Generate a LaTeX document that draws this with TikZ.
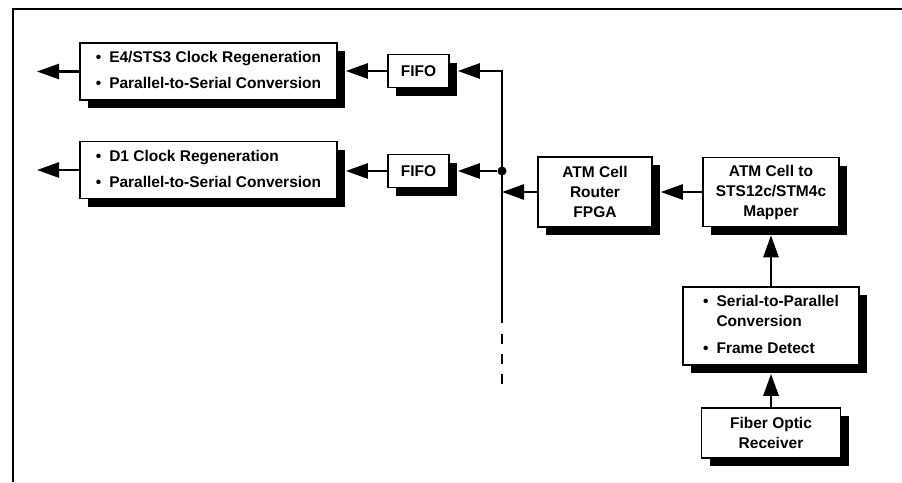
\documentclass[tikz,border=0pt]{standalone}
\usepackage{fontspec}
\setmainfont{Liberation Sans}
\usetikzlibrary{arrows.meta,shadows}
\begin{document}
\begin{tikzpicture}[x=1pt,y=-1pt,
  blk/.style={draw, line width=1.6pt, fill=white, inner sep=0pt, align=center,
     font=\bfseries\fontsize{15.5}{20}\selectfont,
     drop shadow={shadow xshift=8pt, shadow yshift=-8pt, fill=black, opacity=1}},
  conn/.style={line width=2.6pt, -{Triangle[length=22pt,width=15pt]}},
  busline/.style={line width=2.6pt},
  frameline/.style={line width=2pt}]
\useasboundingbox (0,0) rectangle (902,482);
\draw[frameline] (902,9) -- (13,9) -- (13,482);

% boxes
\node[blk, minimum width=257pt, minimum height=57pt] (b1) at (208.5,71.5)
  {\begin{tabular}{@{}l@{\hspace{8pt}}l@{}}\textbullet & E4/STS3 Clock Regeneration\\[6pt]\textbullet & Parallel-to-Serial Conversion\end{tabular}};
\node[blk, minimum width=257pt, minimum height=57pt] (b2) at (208.5,170)
  {\begin{tabular}{@{}l@{\hspace{8pt}}l@{}}\textbullet & D1 Clock Regeneration\\[6pt]\textbullet & Parallel-to-Serial Conversion\end{tabular}};
\node[blk, minimum width=61pt, minimum height=33pt] (f1) at (418.5,71) {FIFO};
\node[blk, minimum width=61pt, minimum height=33pt] (f2) at (418.5,171) {FIFO};
\node[blk, minimum width=114pt, minimum height=70pt] (r) at (595,192) {ATM Cell\\Router\\FPGA};
\node[blk, minimum width=136pt, minimum height=69pt] (m) at (771,192) {ATM Cell to\\STS12c/STM4c\\Mapper};
\node[blk, minimum width=176pt, minimum height=78pt] (sp) at (771,326)
  {\begin{tabular}{@{}l@{\hspace{8pt}}l@{}}\textbullet & Serial-to-Parallel\\ & Conversion\\[7pt]\textbullet & Frame Detect\end{tabular}};
\node[blk, minimum width=139pt, minimum height=50pt] (fo) at (771,433) {Fiber Optic\\Receiver};

% coordinates
\coordinate (o1) at (37,71.5);
\coordinate (o2) at (37,170);
\coordinate (bt) at (502,71);
\coordinate (bb) at (502,323);
\coordinate (rj) at (502,192);
\coordinate (d1) at (502,334);
\coordinate (d2) at (502,384);
\node[circle, fill=black, inner sep=0pt, minimum size=9pt] (dot) at (502,171) {};

% connectors
\draw[conn] (b1.west) -- (o1);
\draw[conn] (b2.west) -- (o2);
\draw[conn, shorten >=8pt] (f1.west) -- (f1.west -| b1.east);
\draw[conn, shorten >=8pt] (f2.west) -- (f2.west -| b2.east);
\draw[conn, shorten >=8pt] (bb) -- (bt) -- (f1.east);
\draw[conn, shorten >=8pt] (dot) -- (f2.east);
\draw[conn] (r.west) -- (rj);
\draw[busline, dash pattern=on 10pt off 10pt] (d1) -- (d2);
\draw[conn, shorten >=8pt] (m.west) -- (m.west -| r.east);
\draw[conn, shorten >=8pt] (sp.north) -- (m.south);
\draw[conn, shorten >=8pt] (fo.north) -- (sp.south);
\end{tikzpicture}
\end{document}
